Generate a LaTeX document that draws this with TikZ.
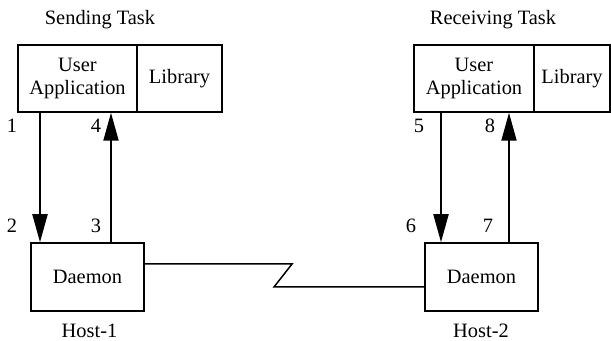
\documentclass[tikz,border=0pt]{standalone}
\usepackage{fontspec}
\setmainfont{Liberation Serif}
\usetikzlibrary{arrows.meta}
\begin{document}
\begin{tikzpicture}[x=0.5pt,y=-0.5pt,
  every node/.style={font=\rmfamily\fontsize{10.2}{11.5}\selectfont},
  blk/.style={draw,line width=0.75pt,inner sep=0pt,align=center},
  arr/.style={line width=1pt,-{Triangle[length=14pt,width=7.5pt]}},
  lbl/.style={anchor=base,inner sep=0pt},
  link/.style={line width=0.75pt}]
\useasboundingbox (0,0) rectangle (611,341);
% top boxes
\node[blk,minimum width={119*0.5pt},minimum height={67*0.5pt}] (ua1) at (77.5,78.5) {User\\Application};
\node[blk,minimum width={85*0.5pt},minimum height={67*0.5pt}] (lib1) at (179.5,78.5) {Library};
\node[blk,minimum width={120*0.5pt},minimum height={67*0.5pt}] (ua2) at (474,78.5) {User\\Application};
\node[blk,minimum width={76*0.5pt},minimum height={67*0.5pt}] (lib2) at (572,78.5) {Library};
% daemons
\node[blk,minimum width={113*0.5pt},minimum height={68*0.5pt}] (d1) at (87.5,277) {Daemon};
\node[blk,minimum width={113*0.5pt},minimum height={68*0.5pt}] (d2) at (481.5,277) {Daemon};
% titles
\node[lbl] (t1) at (100,25) {Sending Task};
\node[lbl] (t2) at (493,25) {Receiving Task};
\node[lbl] (h1) at (89.5,338) {Host-1};
\node[lbl] (h2) at (481,338) {Host-2};
% arrow columns
\coordinate (c1) at (40,0);
\coordinate (c2) at (111,0);
\coordinate (c3) at (441,0);
\coordinate (c4) at (509,0);
\draw[arr] (c1 |- ua1.south) -- (c1 |- d1.north);
\draw[arr] (c2 |- d1.north) -- (c2 |- ua1.south);
\draw[arr] (c3 |- ua2.south) -- (c3 |- d2.north);
\draw[arr] (c4 |- d2.north) -- (c4 |- ua2.south);
% numbers
\node[lbl] (n1) at (12,133) {1};
\node[lbl] (n4) at (96,133) {4};
\node[lbl] (n2) at (12,233) {2};
\node[lbl] (n3) at (96,233) {3};
\node[lbl] (n5) at (419,133) {5};
\node[lbl] (n8) at (490,133) {8};
\node[lbl] (n6) at (411,233) {6};
\node[lbl] (n7) at (488,233) {7};
% link
\coordinate (z1) at (292,264);
\coordinate (z2) at (274,287);
\draw[link] ([yshift=6.5pt]d1.east) -- (z1) -- (z2) -- (d2.west |- z2);
\end{tikzpicture}
\end{document}
